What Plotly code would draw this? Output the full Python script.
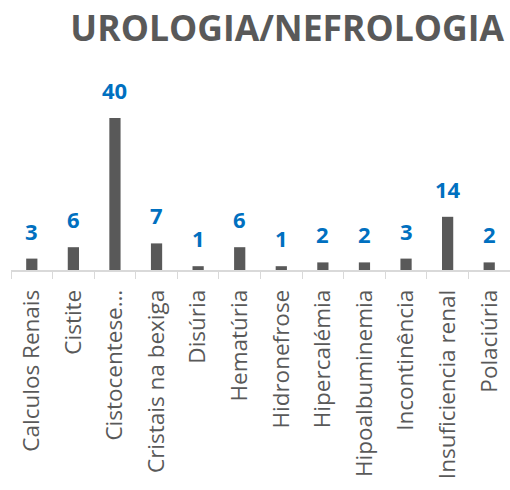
import plotly.graph_objects as go

# categories and counts
CATEGORIES = ["Calculos Renais", "Cistite", "Cistocentese…", "Cristais na bexiga",
              "Disúria", "Hematúria", "Hidronefrose", "Hipercalémia",
              "Hipoalbuminemia", "Incontinência", "Insuficiencia renal", "Polaciúria"]
COUNTS = [3, 6, 40, 7, 1, 6, 1, 2, 2, 3, 14, 2]
TITLE = "UROLOGIA/NEFROLOGIA"

GREY = "#595959"
BLUE = "#0070C0"
FONT = "Open Sans"

fig = go.Figure(go.Bar(x=CATEGORIES, y=COUNTS, marker_color=GREY,
                       marker_line_width=0, hoverinfo="skip"))

# value labels above each bar
for cat, n in zip(CATEGORIES, COUNTS):
    fig.add_annotation(x=cat, y=n, text=str(n), showarrow=False,
                       yanchor="bottom", yshift=11,
                       font=dict(family=FONT, size=22, color=BLUE, weight="bold"))

fig.update_layout(
    width=510, height=490,
    margin=dict(l=11, r=0, t=99, b=220, autoexpand=False),
    paper_bgcolor="white", plot_bgcolor="white",
    bargap=0.73, showlegend=False,
    title=dict(text=f"<b>{TITLE}</b>", x=504 / 510, xanchor="right", xref="container",
               y=1 - 29 / 490, yanchor="middle", yref="container",
               font=dict(family=FONT, size=35.5, color=GREY)),
)
fig.update_xaxes(showline=True, linecolor="#d9d9d9", linewidth=1.5,
                 ticks="outside", tickson="boundaries", ticklen=7, tickcolor="#d9d9d9",
                 tickangle=-90, ticklabelstandoff=9, automargin=False,
                 tickfont=dict(family=FONT, size=22.5, color=GREY),
                 showgrid=False, fixedrange=True)
fig.update_yaxes(range=[0, 45], visible=False, showgrid=False, fixedrange=True)

# page margin would shift the 510x490 figure out of the window
fig.write_html("out.html", config={"displayModeBar": False},
               post_script="document.body.style.margin='0';")
